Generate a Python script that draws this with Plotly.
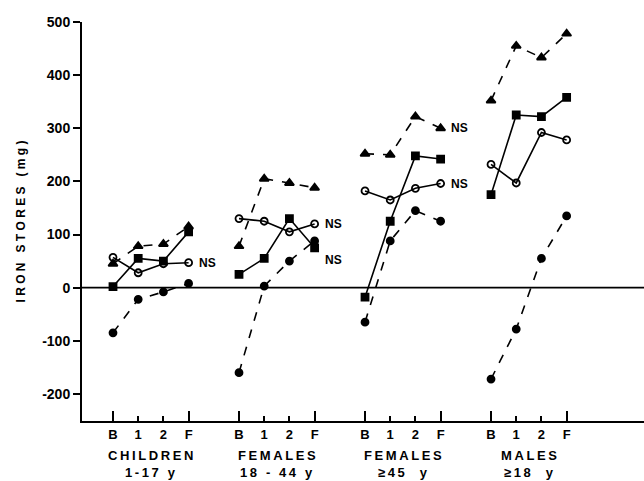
import plotly.graph_objects as go

groups = ["CHILDREN<br>1-17 y", "FEMALES<br>18 - 44 y", "FEMALES<br>≥45  y", "MALES<br>≥18  y"]
visits = ["B", "1", "2", "F"]

# iron stores (mg), one list of 4 visits per group
triangles = [[45, 78, 82, 115], [78, 205, 197, 188], [252, 250, 322, 300], [352, 455, 433, 478]]
sq_filled = [[2, 55, 50, 105], [25, 55, 130, 75], [-18, 125, 248, 242], [175, 325, 322, 358]]
circ_open = [[57, 28, 45, 47], [130, 125, 105, 120], [182, 165, 187, 196], [232, 197, 292, 278]]
circ_filled = [[-85, -22, -8, 8], [-160, 3, 50, 88], [-65, 88, 145, 125], [-172, -78, 55, 135]]

ns_labels = [("tri", 2), ("sq", 1), ("co", 0), ("co", 1), ("co", 2)]

GAP = 5
THIN = "\u2009"

def spaced(s):
    return THIN.join(list(s))

def xs():
    out = []
    for g in range(len(groups)):
        out += [g * GAP + i for i in range(len(visits))] + [None]
    return out

def ys(series):
    out = []
    for s in series:
        out += list(s) + [None]
    return out

fig = go.Figure()
FONT = "Liberation Sans"
series = [
    ("tri", triangles, "triangle-up", "dash", 8),
    ("sq", sq_filled, "square", "solid", 7),
    ("co", circ_open, "circle-open", "solid", 7),
    ("cf", circ_filled, "circle", "dash", 7),
]
for key, data, sym, dash, size in series:
    fig.add_trace(go.Scatter(
        x=xs(), y=ys(data), mode="lines+markers",
        line=dict(color="black", width=1.6, dash=dash),
        marker=dict(symbol=sym, size=size, color="black",
                    line=dict(color="black", width=1.8)),
        showlegend=False, connectgaps=False, hoverinfo="skip"))

lookup = {"tri": triangles, "sq": sq_filled, "co": circ_open, "cf": circ_filled}
for key, g in ns_labels:
    yoff = -12 if (key == "sq" and g == 1) else 0
    fig.add_annotation(x=g * GAP + 3, y=lookup[key][g][3], text="<b>NS</b>",
                       showarrow=False, xanchor="left", xshift=8, yshift=yoff,
                       font=dict(family=FONT, size=12, color="black"))

# zero reference line
fig.add_shape(type="line", xref="paper", x0=0, x1=1, yref="y", y0=0, y1=0,
              line=dict(color="black", width=1.8))

tickvals = [g * GAP + i for g in range(len(groups)) for i in range(len(visits))]
ticktext = [f"<b>{v}</b>" for g in range(len(groups)) for v in visits]
endvals = [g * GAP + i for g in range(len(groups)) for i in (0, len(visits) - 1)]

for g, name in enumerate(groups):
    for k, line in enumerate(name.split("<br>")):
        fig.add_annotation(x=g * GAP + 1.5, y=0, yref="paper", yanchor="middle",
                           text="<b>" + spaced(line) + "</b>", showarrow=False,
                           yshift=-34 - 17 * k,
                           font=dict(family=FONT, size=13, color="black"))

# invisible trace for overlay axis (longer ticks at B and F)
fig.add_trace(go.Scatter(x=[0], y=[0], xaxis="x2", mode="markers",
                         marker=dict(opacity=0), showlegend=False, hoverinfo="skip"))

yticks = [-200, -100, 0, 100, 200, 300, 400, 500]
xr = [-1.23, 21.07]
fig.update_layout(
    width=644, height=481,
    margin=dict(l=82, r=0, t=22, b=60),
    paper_bgcolor="white", plot_bgcolor="white",
    font=dict(family=FONT, color="black"),
    xaxis=dict(range=xr, tickvals=tickvals, ticktext=ticktext, ticks="inside",
               ticklen=5, tickwidth=1.5, tickcolor="black", showline=True,
               linecolor="black", linewidth=2, showgrid=False, zeroline=False,
               tickfont=dict(size=13, family=FONT)),
    xaxis2=dict(range=xr, overlaying="x", anchor="y", tickvals=endvals,
                showticklabels=False, ticks="inside", ticklen=10, tickwidth=1.5,
                tickcolor="black", showgrid=False, zeroline=False, showline=False),
    yaxis=dict(range=[-251, 500], tickvals=yticks,
               ticktext=[f"<b>{v}</b>" for v in yticks],
               ticks="outside", ticklen=7, tickwidth=1.5, tickcolor="black",
               showline=True, linecolor="black", linewidth=2, showgrid=False,
               zeroline=False, tickfont=dict(size=14, family=FONT),
               title=dict(text="<b>I R O N   S T O R E S   ( m g )</b>", standoff=14,
                          font=dict(size=12, family=FONT))),
)

fig.write_html("out.html", config={"displayModeBar": False},
               post_script="document.body.style.margin='0';document.body.style.overflow='hidden';")
